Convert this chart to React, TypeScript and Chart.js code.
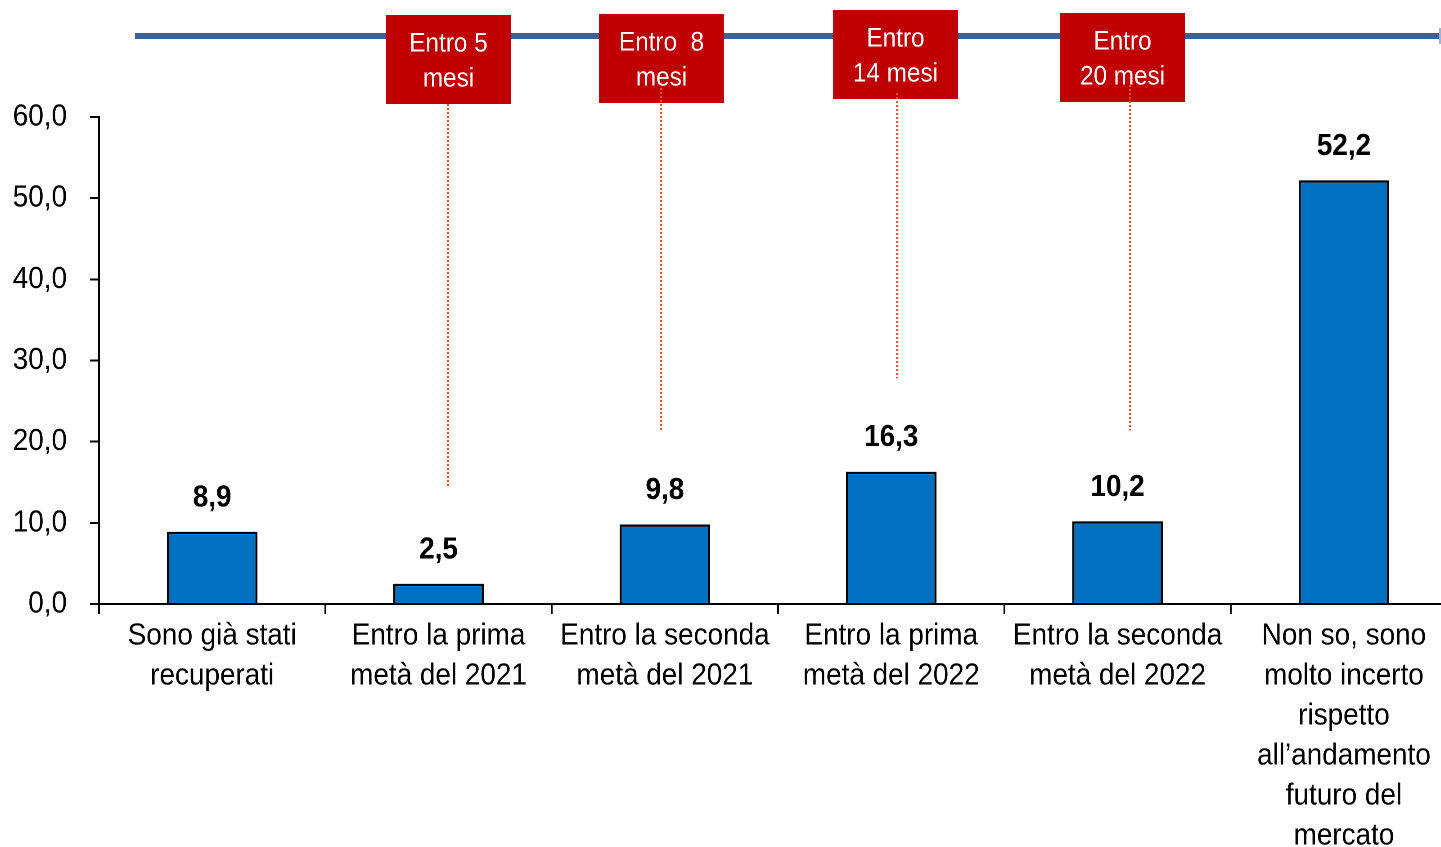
import React, { useEffect, useRef } from "react";
import { Chart, registerables } from "chart.js";
Chart.register(...registerables);

const categories: string[][] = [
  ["Sono già stati", "recuperati"],
  ["Entro la prima", "metà del 2021"],
  ["Entro la seconda", "metà del 2021"],
  ["Entro la prima", "metà del 2022"],
  ["Entro la seconda", "metà del 2022"],
  ["Non so, sono", "molto incerto", "rispetto", "all’andamento", "futuro del", "mercato"],
];
const values = [8.9, 2.5, 9.8, 16.3, 10.2, 52.2];
const yTicks = [0, 10, 20, 30, 40, 50, 60];

const boxLabels: string[][] = [
  ["Entro 5", "mesi"],
  ["Entro  8", "mesi"],
  ["Entro", "14 mesi"],
  ["Entro", "20 mesi"],
];
// positions on the category axis (fractional index)
const boxCenters = [1.044, 1.985, 3.019, 4.022];
const boxTops = [15, 14, 10, 13];
const dotX = [1.042, 1.983, 3.026, 4.055];
const dotTops = [104, 88, 93, 85];
const dotEnds = [14.3, 21.4, 27.8, 21.4];

// horizontal squeeze to imitate a narrow typeface
const SQ = 0.9;
const PAGE_W = 1441;
const PAGE_H = 847;
const OVERFLOW = 16.5; // plot area runs past the right edge of the picture
const W = Math.round((PAGE_W + OVERFLOW) / SQ);
const px = (v: number) => v / SQ; // page px -> logical px (horizontal)

const FONT = '"Liberation Sans", Arial, sans-serif';
const fmt = (v: number) => v.toFixed(1).replace(".", ",");

const overlay = {
  id: "overlay",
  afterDatasetsDraw(chart: any) {
    const ctx = chart.ctx as CanvasRenderingContext2D;
    const x = chart.scales.x;
    const y = chart.scales.y;
    ctx.save();
    // value labels
    ctx.fillStyle = "#000";
    ctx.font = `bold 31px ${FONT}`;
    ctx.textAlign = "center";
    ctx.textBaseline = "middle";
    const meta = chart.getDatasetMeta(0);
    meta.data.forEach((bar: any, i: number) => {
      ctx.fillText(fmt(values[i]), bar.x, bar.y - 34);
    });
    // blue timeline
    ctx.strokeStyle = "#3D6299";
    ctx.lineWidth = 6;
    ctx.beginPath();
    ctx.moveTo(px(135), 36);
    ctx.lineTo(px(PAGE_W), 36);
    ctx.stroke();
    ctx.strokeStyle = "#9DB3D3";
    ctx.lineWidth = 2;
    ctx.beginPath();
    ctx.moveTo(px(PAGE_W - 1), 28);
    ctx.lineTo(px(PAGE_W - 1), 44);
    ctx.stroke();
    // red boxes
    boxLabels.forEach((lines, i) => {
      const cx = x.getPixelForValue(boxCenters[i]);
      const top = boxTops[i];
      const w = px(125), h = 89;
      ctx.fillStyle = "#C00000";
      ctx.fillRect(cx - w / 2, top, w, h);
      ctx.fillStyle = "#fff";
      ctx.font = `27px ${FONT}`;
      ctx.textAlign = "center";
      ctx.textBaseline = "middle";
      lines.forEach((l, k) => ctx.fillText(l, cx, top + 29 + k * 35));
    });
    // dotted lines
    ctx.strokeStyle = "#E2502A";
    ctx.lineWidth = 2.2;
    ctx.setLineDash([2, 2]);
    dotX.forEach((v, i) => {
      const xx = x.getPixelForValue(v);
      ctx.beginPath();
      ctx.moveTo(xx, dotTops[i]);
      ctx.lineTo(xx, y.getPixelForValue(dotEnds[i]));
      ctx.stroke();
    });
    ctx.restore();
  },
};

export default function App() {
  const ref = useRef<HTMLCanvasElement>(null);
  useEffect(() => {
    const chart = new Chart(ref.current!, {
      type: "bar",
      data: {
        labels: categories,
        datasets: [
          {
            data: values,
            backgroundColor: "#0070C0",
            borderColor: "#000",
            borderWidth: 2.4,
            barPercentage: 0.4,
            categoryPercentage: 1,
          },
        ],
      },
      options: {
        animation: false,
        responsive: false,
        devicePixelRatio: 2,
        layout: { padding: { top: 117, left: 0, right: 0, bottom: 0 } },
        plugins: { legend: { display: false }, tooltip: { enabled: false } },
        scales: {
          x: {
            offset: true,
            border: { color: "#000", width: 2 },
            grid: {
              offset: true,
              drawOnChartArea: false,
              drawTicks: true,
              tickLength: 10,
              color: "#000",
              lineWidth: 2,
            },
            ticks: {
              color: "#000",
              font: { family: FONT, size: 31, lineHeight: 1.29 },
              padding: 2,
              maxRotation: 0,
              autoSkip: false,
            },
            afterFit(s: any) {
              s.height = 243;
            },
          },
          y: {
            min: 0,
            max: 60,
            border: { color: "#000", width: 2 },
            grid: {
              drawOnChartArea: false,
              tickLength: px(9),
              color: "#000",
              lineWidth: 2,
            },
            afterBuildTicks(s: any) {
              s.ticks = yTicks.map((v) => ({ value: v }));
            },
            ticks: {
              color: "#000",
              font: { family: FONT, size: 31 },
              padding: px(23),
              callback: (v: any) => fmt(Number(v)),
            },
            afterFit(s: any) {
              s.width = px(99);
            },
          },
        },
      },
      plugins: [overlay],
    });
    return () => chart.destroy();
  }, []);
  return (
    <div
      style={{
        position: "fixed",
        left: 0,
        top: 0,
        width: PAGE_W,
        height: PAGE_H,
        overflow: "hidden",
        background: "#fff",
      }}
    >
      <div
        style={{
          width: W,
          height: PAGE_H,
          transform: `scaleX(${SQ})`,
          transformOrigin: "0 0",
        }}
      >
        <canvas ref={ref} width={W} height={PAGE_H} />
      </div>
    </div>
  );
}
